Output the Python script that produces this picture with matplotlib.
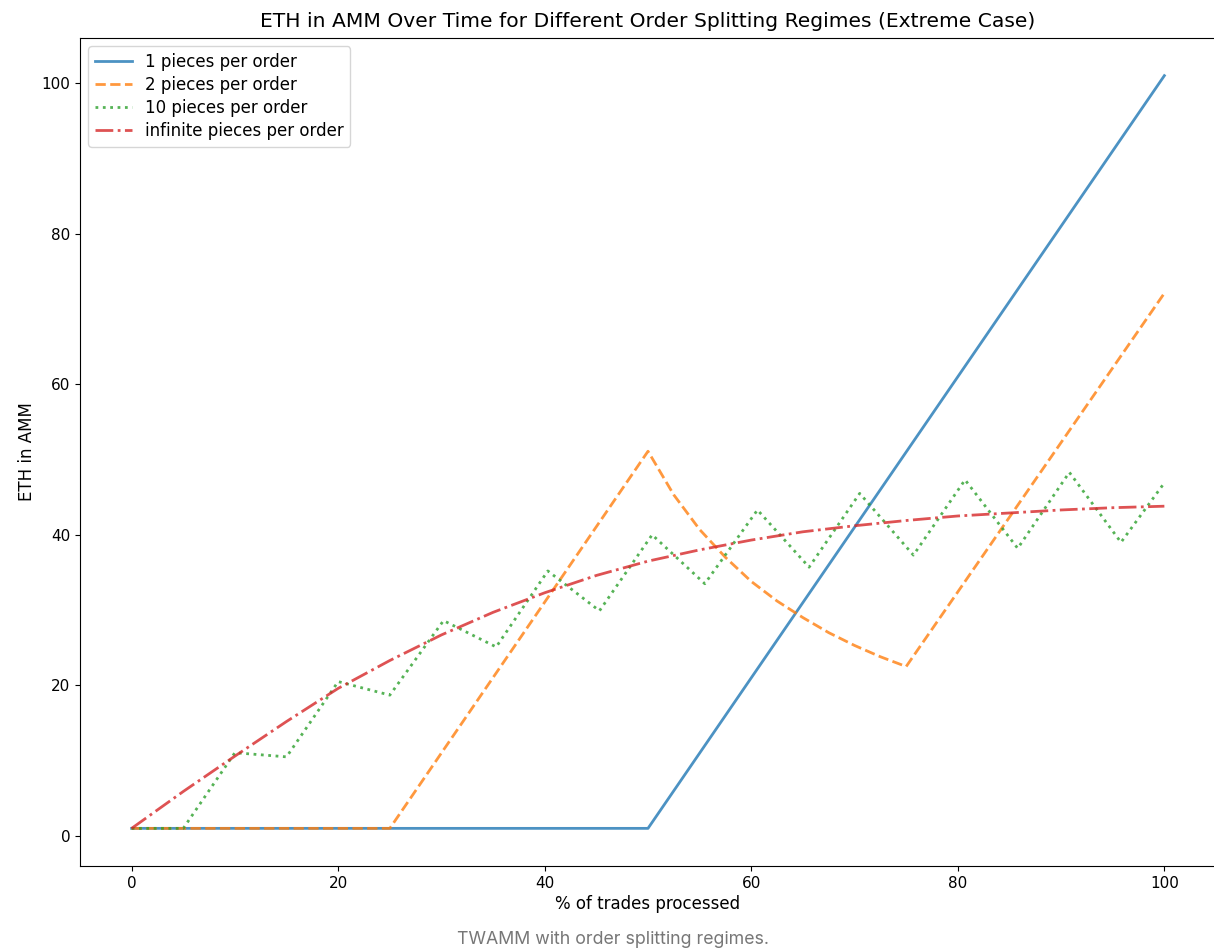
import matplotlib
matplotlib.use("Agg")
import matplotlib.pyplot as plt

# one piece per order
x_one = [0, 50, 100]
eth_one = [1, 1, 101]

# two pieces per order
x_two = [0, 25, 50, 52.5, 55, 57.5, 60, 62.5, 65, 67.5, 70, 72.5, 75, 100]
eth_two = [1, 1, 51.1, 45.3, 40.7, 37.0, 33.8, 31.2, 29.0, 27.0, 25.3, 23.8, 22.5, 72.1]

# ten pieces per order
x_ten = [0, 5, 10, 15, 20, 25, 30.2, 35.3, 40.3, 45.3, 50.4, 55.5, 60.6, 65.6,
         70.5, 75.7, 80.7, 85.8, 90.8, 95.8, 100]
eth_ten = [1, 1, 11.05, 10.5, 20.5, 18.7, 28.6, 25.1, 35.2, 29.9, 40.0, 33.5, 43.3, 35.7,
           45.5, 37.3, 47.3, 38.2, 48.3, 39.0, 46.9]

# infinite pieces per order
x_inf = [0, 5, 10, 15, 20, 25, 30, 35, 40, 45, 50, 55, 60, 65, 70, 75, 80, 85, 90, 95, 100]
eth_inf = [1, 5.9, 10.6, 15.2, 19.6, 23.3, 26.7, 29.7, 32.3, 34.6, 36.5, 38.0, 39.3, 40.4,
           41.2, 41.9, 42.5, 42.9, 43.3, 43.6, 43.8]

fig = plt.figure(figsize=(12.14, 9.5), dpi=100)
ax = fig.add_axes([80 / 1214, 1 - 866 / 950, 1136 / 1214, 828 / 950])

ax.plot(x_one, eth_one, "-", lw=2, alpha=0.8, label="1 pieces per order")
ax.plot(x_two, eth_two, "--", lw=2, alpha=0.8, label="2 pieces per order")
ax.plot(x_ten, eth_ten, ":", lw=2, alpha=0.8, label="10 pieces per order")
ax.plot(x_inf, eth_inf, "-.", lw=2, alpha=0.8, label="infinite pieces per order")

ax.set_title("ETH in AMM Over Time for Different Order Splitting Regimes (Extreme Case)", fontsize=14.6, pad=8)
ax.set_xlabel("% of trades processed", fontsize=12, labelpad=3)
ax.set_ylabel("ETH in AMM", fontsize=12)
ax.tick_params(labelsize=11)
ax.legend(loc="upper left", fontsize=12, handlelength=2.2, borderpad=0.4, labelspacing=0.3)

fig.text(0.505, 1 - 940 / 950, "TWAMM with order splitting regimes.", ha="center", va="center",
         fontsize=12.8, color="#777777", family="Inter")

fig.savefig("out.png", dpi=100)
